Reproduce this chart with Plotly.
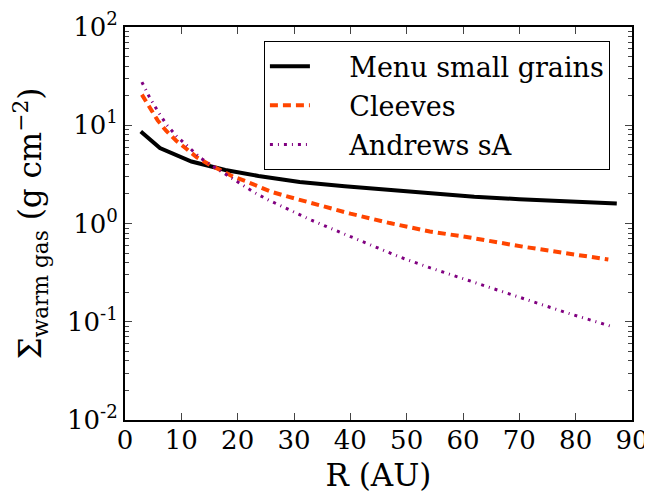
import plotly.graph_objects as go

# Data
r_menu = [2.8, 6.2, 11.8, 17.8, 23.7, 31, 39, 47, 55, 62, 70, 78, 87.3]
s_menu = [8.66, 5.85, 4.27, 3.51, 3.05, 2.65, 2.4, 2.19, 2.02, 1.87, 1.77, 1.68, 1.60]

r_cleeves = [3.0, 4.4, 5.8, 7.3, 9.1, 11, 12.7, 15.1, 17.2, 19.2, 21.6, 23.7, 26, 28.3,
             30.7, 32.8, 40, 47, 54.1, 61.2, 70.7, 80.2, 85.8]
s_cleeves = [20.5, 15.0, 11.2, 8.8, 6.95, 5.7, 4.74, 3.95, 3.45, 3.0, 2.67, 2.37, 2.1, 1.92,
             1.76, 1.63, 1.26, 1.01, 0.83, 0.72, 0.58, 0.48, 0.43]

r_andrews = [3.0, 4.4, 5.9, 7.4, 9.1, 11.2, 13.5, 15.9, 18.1, 20.6, 23, 25.5, 28, 30.5,
             33.1, 38.5, 43.5, 48.8, 54.1, 59.5, 62.1, 70.1, 78.1, 86.8]
s_andrews = [27.5, 19.0, 13.7, 10.1, 7.8, 6.0, 4.6, 3.74, 3.12, 2.52, 2.06, 1.73, 1.48, 1.26,
             1.08, 0.80, 0.61, 0.455, 0.355, 0.28, 0.247, 0.177, 0.125, 0.088]

series_names = ["Menu small grains", "Cleeves", "Andrews sA"]

y_tickvals = [0.01, 0.1, 1, 10, 100]
y_ticktext = ["10<sup>-2</sup>", "10<sup>-1</sup>", "10<sup>0</sup>", "10<sup>1</sup>", "10<sup>2</sup>"]
x_tickvals = [0, 10, 20, 30, 40, 50, 60, 70, 80, 90]

FONT = "DejaVu Serif"
PAD = "\u00a0\u00a0\u00a0\u00a0"

fig = go.Figure()
fig.add_trace(go.Scatter(x=r_menu, y=s_menu, mode="lines", name=PAD + series_names[0],
                         legendgroup="a",
                         line=dict(color="black", width=4)))
fig.add_trace(go.Scatter(x=r_cleeves, y=s_cleeves, mode="lines", name=PAD + series_names[1],
                         legendgroup="b",
                         line=dict(color="#FF4500", width=4, dash="8px,5px")))
fig.add_trace(go.Scatter(x=r_andrews, y=s_andrews, mode="lines", name=PAD + series_names[2],
                         legendgroup="c",
                         line=dict(color="#800080", width=3, dash="3px,5px,1px,5px")))

# page body has an 8px margin, so the figure is 8px smaller and offset
fig.update_layout(
    width=644, height=485,
    margin=dict(l=117, r=20, t=19, b=73),
    paper_bgcolor="white", plot_bgcolor="white",
    font=dict(family=FONT, color="black", size=24),
    showlegend=True,
    legend=dict(x=0.274, y=0.964, xanchor="left", yanchor="top",
                bordercolor="black", borderwidth=1, bgcolor="white",
                font=dict(family=FONT, size=27), traceorder="grouped", tracegroupgap=1,
                itemwidth=40),
)
fig.update_xaxes(
    range=[0, 90], tickvals=x_tickvals, ticks="inside", ticklen=7, tickwidth=1,
    showline=True, linewidth=2, linecolor="black", mirror="allticks",
    showgrid=False, zeroline=False, automargin=False,
    tickfont=dict(family=FONT, size=26), ticklabelstandoff=-4,
    title=dict(text="R (AU)", font=dict(family=FONT, size=31), standoff=10),
)
fig.update_yaxes(
    type="log", range=[-2, 2], tickvals=y_tickvals, ticktext=y_ticktext,
    ticks="inside", ticklen=7, tickwidth=1,
    minor=dict(ticks="inside", ticklen=4, tickwidth=1, showgrid=False,
               tickvals=[m * 10 ** e for e in (-2, -1, 0, 1) for m in range(2, 10)]),
    showline=True, linewidth=2, linecolor="black", mirror="allticks",
    showgrid=False, zeroline=False, automargin=False,
    tickfont=dict(family=FONT, size=26),
    title=dict(text="Σ<sub>warm gas</sub> (g cm<sup>−2</sup>)", font=dict(family=FONT, size=31), standoff=16),
)

fig.write_html("out.html")
